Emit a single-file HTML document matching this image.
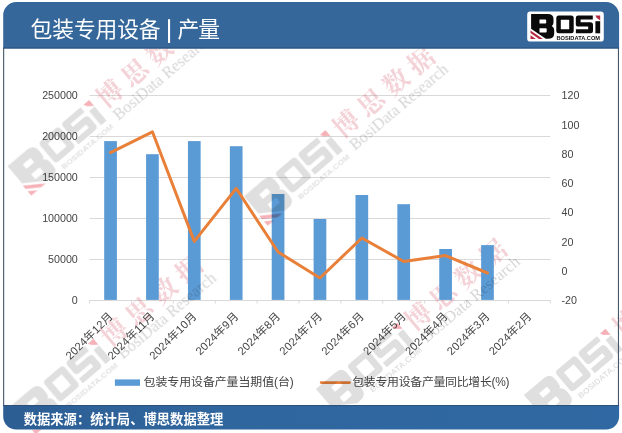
<!DOCTYPE html>
<html lang="zh"><head><meta charset="utf-8"><title>包装专用设备 | 产量</title>
<style>html,body{margin:0;padding:0;background:#fff;overflow:hidden}svg{display:block;will-change:transform}text{font-family:"Liberation Sans","Noto Sans CJK SC",sans-serif}</style></head>
<body>
<svg width="622" height="433" viewBox="0 0 622 433" role="img" aria-label="包装专用设备 | 产量">
<defs>
<g id="wmlogo"><path fill="#000" fill-opacity="0.125" fill-rule="evenodd" d="M3.9 2.4H20.5Q26.3 2.4 26.3 7.4V11Q26.3 13.3 24.6 14.3Q27 15.5 27 18.4V21.8Q27 27.2 20.6 27.2H18.6L3.9 17.2ZM12.3 8V11.9H18.2Q19 11.9 19 11.1V8.8Q19 8 18.2 8ZM12.3 16.6V20.9H18.6Q19.5 20.9 19.5 20V17.5Q19.5 16.6 18.6 16.6Z"/><path fill="#e00018" fill-opacity="0.3" d="M3.3 18.8L15.8 27.3H11.8L3.3 21.5ZM3.3 23.6L8.7 27.3H3.3Z"/><path fill="#000" fill-opacity="0.125" fill-rule="evenodd" d="M31.6 4H44Q46.5 4 46.5 6.5V19.2Q46.5 21.7 44 21.7H31.6Q29.1 21.7 29.1 19.2V6.5Q29.1 4 31.6 4ZM33.6 8.2V17.6H42V8.2Z"/><path fill="#000" fill-opacity="0.125" d="M51 4H65.6V8H53.4V10.6H63.2Q65.8 10.6 65.8 13.2V19.2Q65.8 21.7 63.2 21.7H48.7V17.7H61V14.9H51.2Q48.6 14.9 48.6 12.3V6.4Q48.6 4 51 4Z"/><path fill="#000" fill-opacity="0.125" d="M68.2 9.6H73V21.7H68.2Z"/><path fill="#e00018" fill-opacity="0.3" d="M68.2 4H73V9L69.4 6.2Z"/><text x="30.8" y="28.6" font-size="5.2" font-weight="bold" fill="#000" fill-opacity="0.125" textLength="43" lengthAdjust="spacingAndGlyphs">BOSIDATA.COM</text></g>
<text id="wmr" x="118" y="24" font-size="26" font-weight="bold" style="font-family:'Liberation Serif','Noto Serif CJK SC',serif" fill="#d04a5c" opacity=".24" textLength="123.6" lengthAdjust="spacing">博思数据</text>
<g id="wm"><use href="#wmlogo" transform="scale(1.52)"/><text x="120" y="40.5" style="font-family:'Liberation Serif',serif" font-size="16.2" fill="#000" opacity=".17">BosiData Research</text></g>
<linearGradient id="fg" x1="0" x2="1" y1="0" y2="0"><stop offset="0" stop-color="#2c5e94"/><stop offset=".35" stop-color="#30669e"/><stop offset="1" stop-color="#2f68a2"/></linearGradient>
</defs>
<rect width="622" height="433" fill="#fff"/>
<g id="grid">
<line x1="89.6" x2="550.3" y1="300.5" y2="300.5" stroke="#d9d9d9" stroke-width="1"/>
<line x1="89.6" x2="550.3" y1="259.5" y2="259.5" stroke="#d9d9d9" stroke-width="1"/>
<line x1="89.6" x2="550.3" y1="218.5" y2="218.5" stroke="#d9d9d9" stroke-width="1"/>
<line x1="89.6" x2="550.3" y1="177.5" y2="177.5" stroke="#d9d9d9" stroke-width="1"/>
<line x1="89.6" x2="550.3" y1="136.5" y2="136.5" stroke="#d9d9d9" stroke-width="1"/>
<line x1="89.6" x2="550.3" y1="95.5" y2="95.5" stroke="#d9d9d9" stroke-width="1"/>
<line x1="89.6" x2="89.6" y1="300.5" y2="303.5" stroke="#d9d9d9" stroke-width="1"/>
<line x1="131.48" x2="131.48" y1="300.5" y2="303.5" stroke="#d9d9d9" stroke-width="1"/>
<line x1="173.36" x2="173.36" y1="300.5" y2="303.5" stroke="#d9d9d9" stroke-width="1"/>
<line x1="215.25" x2="215.25" y1="300.5" y2="303.5" stroke="#d9d9d9" stroke-width="1"/>
<line x1="257.13" x2="257.13" y1="300.5" y2="303.5" stroke="#d9d9d9" stroke-width="1"/>
<line x1="299.01" x2="299.01" y1="300.5" y2="303.5" stroke="#d9d9d9" stroke-width="1"/>
<line x1="340.89" x2="340.89" y1="300.5" y2="303.5" stroke="#d9d9d9" stroke-width="1"/>
<line x1="382.77" x2="382.77" y1="300.5" y2="303.5" stroke="#d9d9d9" stroke-width="1"/>
<line x1="424.65" x2="424.65" y1="300.5" y2="303.5" stroke="#d9d9d9" stroke-width="1"/>
<line x1="466.54" x2="466.54" y1="300.5" y2="303.5" stroke="#d9d9d9" stroke-width="1"/>
<line x1="508.42" x2="508.42" y1="300.5" y2="303.5" stroke="#d9d9d9" stroke-width="1"/>
<line x1="550.3" x2="550.3" y1="300.5" y2="303.5" stroke="#d9d9d9" stroke-width="1"/>
</g>
<g id="watermark-text">
<use href="#wmr" transform="translate(0.6 167.2) rotate(-40.3)"/>
<use href="#wmr" transform="translate(237 197.3) rotate(-40.3)"/>
<use href="#wmr" transform="translate(5 406) rotate(-40.3)"/>
<use href="#wmr" transform="translate(309 390) rotate(-40.3)"/>
<use href="#wmr" transform="translate(517 396) rotate(-40.3)"/>
</g>
<g id="chart">
<rect x="104.19" y="141.1" width="12.7" height="158.8" fill="#5b9bd5"/>
<rect x="146.07" y="154.2" width="12.7" height="145.7" fill="#5b9bd5"/>
<rect x="187.95" y="141.1" width="12.7" height="158.8" fill="#5b9bd5"/>
<rect x="229.84" y="146.2" width="12.7" height="153.7" fill="#5b9bd5"/>
<rect x="271.72" y="194" width="12.7" height="105.9" fill="#5b9bd5"/>
<rect x="313.6" y="219" width="12.7" height="80.9" fill="#5b9bd5"/>
<rect x="355.48" y="195" width="12.7" height="104.9" fill="#5b9bd5"/>
<rect x="397.36" y="204.2" width="12.7" height="95.7" fill="#5b9bd5"/>
<rect x="439.25" y="249" width="12.7" height="50.9" fill="#5b9bd5"/>
<rect x="481.13" y="245.1" width="12.7" height="54.8" fill="#5b9bd5"/>
<polyline points="110.54,152.7 152.42,131.8 194.3,241.4 236.19,188.4 278.07,252 319.95,278 361.83,238 403.71,261.5 445.6,255.6 487.48,273" fill="none" stroke="#e8803a" stroke-width="3" stroke-linejoin="round" stroke-linecap="round"/>
<text x="77.8" y="304.25" text-anchor="end" font-size="10.7" fill="#444">0</text>
<text x="77.8" y="263.25" text-anchor="end" font-size="10.7" fill="#444">50000</text>
<text x="77.8" y="222.25" text-anchor="end" font-size="10.7" fill="#444">100000</text>
<text x="77.8" y="181.25" text-anchor="end" font-size="10.7" fill="#444">150000</text>
<text x="77.8" y="140.25" text-anchor="end" font-size="10.7" fill="#444">200000</text>
<text x="77.8" y="99.25" text-anchor="end" font-size="10.7" fill="#444">250000</text>
<text x="561.5" y="304.25" font-size="10.7" fill="#444">-20</text>
<text x="561.5" y="274.96" font-size="10.7" fill="#444">0</text>
<text x="561.5" y="245.68" font-size="10.7" fill="#444">20</text>
<text x="561.5" y="216.39" font-size="10.7" fill="#444">40</text>
<text x="561.5" y="187.11" font-size="10.7" fill="#444">60</text>
<text x="561.5" y="157.82" font-size="10.7" fill="#444">80</text>
<text x="561.5" y="128.54" font-size="10.7" fill="#444">100</text>
<text x="561.5" y="99.25" font-size="10.7" fill="#444">120</text>
<g transform="translate(107.74 311.5) rotate(-45) translate(-60.98 8)" fill="#444" font-size="11.2"><text x="0" y="0" textLength="60.98" lengthAdjust="spacing">2024年12月</text></g>
<g transform="translate(149.62 311.5) rotate(-45) translate(-60.98 8)" fill="#444" font-size="11.2"><text x="0" y="0" textLength="60.98" lengthAdjust="spacing">2024年11月</text></g>
<g transform="translate(191.5 311.5) rotate(-45) translate(-60.98 8)" fill="#444" font-size="11.2"><text x="0" y="0" textLength="60.98" lengthAdjust="spacing">2024年10月</text></g>
<g transform="translate(233.39 311.5) rotate(-45) translate(-54.75 8)" fill="#444" font-size="11.2"><text x="0" y="0" textLength="54.75" lengthAdjust="spacing">2024年9月</text></g>
<g transform="translate(275.27 311.5) rotate(-45) translate(-54.75 8)" fill="#444" font-size="11.2"><text x="0" y="0" textLength="54.75" lengthAdjust="spacing">2024年8月</text></g>
<g transform="translate(317.15 311.5) rotate(-45) translate(-54.75 8)" fill="#444" font-size="11.2"><text x="0" y="0" textLength="54.75" lengthAdjust="spacing">2024年7月</text></g>
<g transform="translate(359.03 311.5) rotate(-45) translate(-54.75 8)" fill="#444" font-size="11.2"><text x="0" y="0" textLength="54.75" lengthAdjust="spacing">2024年6月</text></g>
<g transform="translate(400.91 311.5) rotate(-45) translate(-54.75 8)" fill="#444" font-size="11.2"><text x="0" y="0" textLength="54.75" lengthAdjust="spacing">2024年5月</text></g>
<g transform="translate(442.8 311.5) rotate(-45) translate(-54.75 8)" fill="#444" font-size="11.2"><text x="0" y="0" textLength="54.75" lengthAdjust="spacing">2024年4月</text></g>
<g transform="translate(484.68 311.5) rotate(-45) translate(-54.75 8)" fill="#444" font-size="11.2"><text x="0" y="0" textLength="54.75" lengthAdjust="spacing">2024年3月</text></g>
<g transform="translate(526.56 311.5) rotate(-45) translate(-54.75 8)" fill="#444" font-size="11.2"><text x="0" y="0" textLength="54.75" lengthAdjust="spacing">2024年2月</text></g>
<rect x="114.9" y="379.4" width="25.1" height="6.4" fill="#5b9bd5"/>
<text x="143.6" y="386.3" font-size="11.9" fill="#444" textLength="150.2" lengthAdjust="spacing">包装专用设备产量当期值(台)</text>
<line x1="321.2" x2="349.5" y1="382.6" y2="382.6" stroke="#e8803a" stroke-width="2.7" stroke-linecap="round"/>
<text x="352.2" y="386.3" font-size="11.9" fill="#444" textLength="157.3" lengthAdjust="spacing">包装专用设备产量同比增长(%)</text>
</g>
<g id="watermarks" style="mix-blend-mode:multiply">
<use href="#wm" transform="translate(0.6 167.2) rotate(-40.3)"/>
<use href="#wm" transform="translate(237 197.3) rotate(-40.3)"/>
<use href="#wm" transform="translate(5 406) rotate(-40.3)"/>
<use href="#wm" transform="translate(309 390) rotate(-40.3)"/>
<use href="#wm" transform="translate(517 396) rotate(-40.3)"/>
</g>
<g id="frame">
<path d="M3.2 48.5V15.1A13 13 0 0 1 16.2 2.1H606.1A13 13 0 0 1 619.1 15.1V48.5Z" fill="#35679a"/>
<path d="M3.2 405.0V416.6A13 13 0 0 0 16.2 429.6H606.1A13 13 0 0 0 619.1 416.6V405.0Z" fill="url(#fg)"/>
<rect x="3.1" y="47.5" width="1.1" height="358.5" fill="#43586b"/>
<rect x="617.9" y="47.5" width="1.1" height="358.5" fill="#43586b"/>
<rect x="3.2" y="47.5" width="615.9" height="1" fill="#2b507a"/>
<rect x="3.2" y="405.0" width="615.9" height="1" fill="#2b507a"/>
<text x="30.6" y="36.6" font-size="21.8" fill="#fff" textLength="130" lengthAdjust="spacing">包装专用设备</text>
<rect x="168" y="19.2" width="2.1" height="23.8" fill="#fff"/>
<text x="177.6" y="36.6" font-size="21.8" fill="#fff" textLength="42.4" lengthAdjust="spacing">产量</text>
<text x="23.7" y="424" font-size="13.3" font-weight="bold" fill="#fff" textLength="199.6" lengthAdjust="spacing">数据来源：统计局、博思数据整理</text>
<g transform="translate(527.2 11.6)"><rect x="0" y="0" width="76.6" height="30" rx="3.2" fill="#fff"/><path fill="#0a0a0a" fill-opacity="1" fill-rule="evenodd" d="M3.9 2.4H20.5Q26.3 2.4 26.3 7.4V11Q26.3 13.3 24.6 14.3Q27 15.5 27 18.4V21.8Q27 27.2 20.6 27.2H18.6L3.9 17.2ZM12.3 8V11.9H18.2Q19 11.9 19 11.1V8.8Q19 8 18.2 8ZM12.3 16.6V20.9H18.6Q19.5 20.9 19.5 20V17.5Q19.5 16.6 18.6 16.6Z"/><path fill="#b42a40" fill-opacity="1" d="M3.3 18.8L15.8 27.3H11.8L3.3 21.5ZM3.3 23.6L8.7 27.3H3.3Z"/><path fill="#0a0a0a" fill-opacity="1" fill-rule="evenodd" d="M31.6 4H44Q46.5 4 46.5 6.5V19.2Q46.5 21.7 44 21.7H31.6Q29.1 21.7 29.1 19.2V6.5Q29.1 4 31.6 4ZM33.6 8.2V17.6H42V8.2Z"/><path fill="#0a0a0a" fill-opacity="1" d="M51 4H65.6V8H53.4V10.6H63.2Q65.8 10.6 65.8 13.2V19.2Q65.8 21.7 63.2 21.7H48.7V17.7H61V14.9H51.2Q48.6 14.9 48.6 12.3V6.4Q48.6 4 51 4Z"/><path fill="#0a0a0a" fill-opacity="1" d="M68.2 9.6H73V21.7H68.2Z"/><path fill="#b42a40" fill-opacity="1" d="M68.2 4H73V9L69.4 6.2Z"/><text x="29.3" y="28.3" font-size="5.3" font-weight="bold" fill="#111" fill-opacity="1" textLength="43.6" lengthAdjust="spacingAndGlyphs">BOSIDATA.COM</text></g>
</g>
</svg>
</body></html>
